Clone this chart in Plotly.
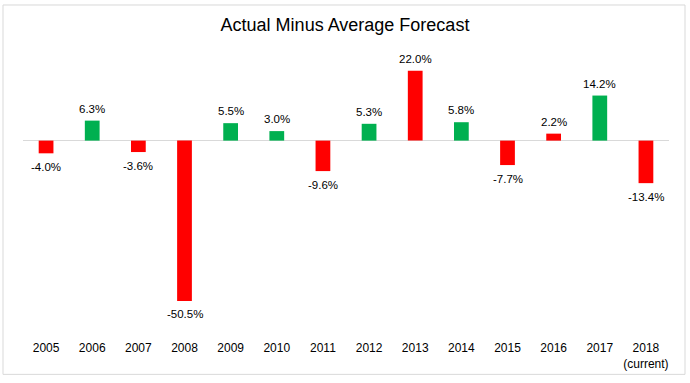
import plotly.graph_objects as go

years = ["2005", "2006", "2007", "2008", "2009", "2010", "2011", "2012",
         "2013", "2014", "2015", "2016", "2017", "2018<br>(current)"]
values = [-4.0, 6.3, -3.6, -50.5, 5.5, 3.0, -9.6, 5.3, 22.0, 5.8, -7.7, 2.2, 14.2, -13.4]
RED = "#FF0000"
GREEN = "#00B050"
colors = [RED, GREEN, RED, RED, GREEN, GREEN, RED, GREEN, RED, GREEN, RED, RED, GREEN, RED]

W, H = 690, 383
L, R, T, B = 23, 21, 60, 39
pw = W - L - R
ph = H - T - B
FONT = "Arial, Liberation Sans, sans-serif"

fig = go.Figure(go.Bar(
    x=years, y=values,
    marker=dict(color=colors, line=dict(width=0)),
    hoverinfo="skip",
))

annotations = []
for i, v in enumerate(values):
    annotations.append(dict(
        x=i, y=v, xref="x", yref="y", text=f"{v:.1f}%", showarrow=False,
        yanchor="middle", yshift=12 if v >= 0 else -13.5,
        font=dict(family=FONT, size=11.5, color="#000000"),
    ))

fig.update_layout(
    width=W, height=H,
    margin=dict(l=L, r=R, t=T, b=B),
    paper_bgcolor="white", plot_bgcolor="white",
    bargap=0.68,
    showlegend=False,
    annotations=annotations,
    title=dict(text="Actual Minus Average Forecast", x=0.5, xanchor="center",
               y=1 - 25 / H, yanchor="middle",
               font=dict(family=FONT, size=18, color="#000000")),
    xaxis=dict(type="category", categoryorder="array", categoryarray=years,
               range=[-0.5, len(years) - 0.5],
               showgrid=False, showline=False, ticks="", zeroline=False,
               tickfont=dict(family=FONT, size=12, color="#000000")),
    yaxis=dict(range=[-62.5, 25.4], showgrid=False, showticklabels=False, showline=False,
               zeroline=True, zerolinecolor="#D9D9D9", zerolinewidth=1),
    shapes=[dict(type="rect", xref="paper", yref="paper",
                 x0=(3 - L) / pw, x1=(685 - L) / pw,
                 y0=(H - B - 380) / ph, y1=(H - B - 4) / ph,
                 line=dict(color="#D9D9D9", width=1), fillcolor="rgba(0,0,0,0)")],
)

fig.write_html("out.html", config={"displayModeBar": False},
               post_script="document.body.style.margin='0';document.body.style.padding='0';")
